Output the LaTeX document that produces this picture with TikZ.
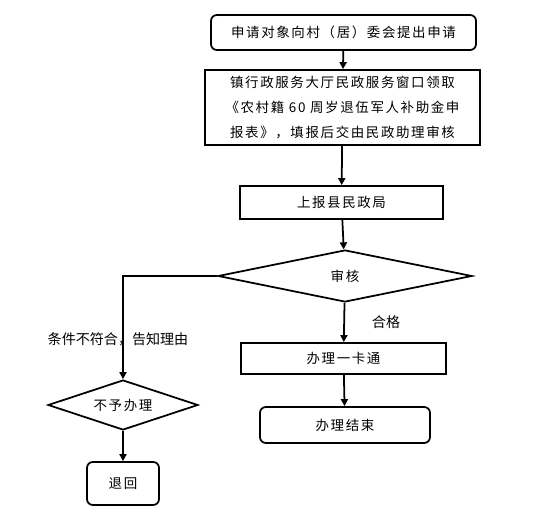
\documentclass[tikz,border=0pt]{standalone}
\usepackage{fontspec}
\setmainfont{Noto Sans CJK SC}
\newfontfamily\boxfont[LetterSpace=12]{Noto Sans CJK SC}
\usetikzlibrary{shapes.geometric,arrows.meta}
\begin{document}
\begin{tikzpicture}[x=0.03cm,y=-0.03cm,
	base/.style={draw,line width=1.5pt,inner sep=0pt,align=center,font=\boxfont\fontsize{11.5pt}{21pt}\selectfont},
	stepbox/.style={base,rectangle},
	endbox/.style={base,rectangle,rounded corners=5pt},
	check/.style={base,diamond,aspect=4},
	arr/.style={line width=1.5pt,-{Triangle[width=6pt,length=6pt]}},
	lbl/.style={inner sep=0pt,font=\fontsize{12pt}{14pt}\selectfont}]
	\useasboundingbox (0,0) rectangle (534,515);

	% Steps
	\node[endbox,minimum width=7.95cm,minimum height=1.05cm] (apply) at (343.5,32.5) {申请对象向村（居）委会提出申请};
	\node[stepbox,minimum width=8.25cm,minimum height=2.25cm] (form) at (342.5,107.5)
		{镇行政服务大厅民政服务窗口领取\\《农村籍 60 周岁退伍军人补助金申\\报表》，填报后交由民政助理审核};
	\node[stepbox,minimum width=6.09cm,minimum height=0.99cm] (county) at (341.5,202.5) {上报县民政局};
	\node[check,minimum width=7.62cm,minimum height=1.56cm] (audit) at (345,276) {审核};
	\node[stepbox,minimum width=6.15cm,minimum height=0.93cm] (card) at (343.5,358.5) {办理一卡通};
	\node[endbox,minimum width=5.1cm,minimum height=1.08cm] (done) at (345,425) {办理结束};

	% Refused branch
	\node[check,minimum width=4.5cm,minimum height=1.5cm] (refuse) at (123,405) {不予办理};
	\node[endbox,minimum width=2.16cm,minimum height=1.29cm] (back) at (123,483.5) {退回};

	% Labels
	\node[lbl] (fail) at (118,339) {条件不符合，告知理由};
	\node[lbl] (pass) at (386,322) {合格};

	% Arrows
	\draw[arr] (apply) -- (form);
	\draw[arr] (form) -- (county);
	\draw[arr] (county) -- (audit);
	\draw[arr] (audit) -- (card);
	\draw[arr] (card) -- (done);
	\draw[arr] (audit.west) -| (refuse.north);
	\draw[arr] (refuse) -- (back);
\end{tikzpicture}
\end{document}
